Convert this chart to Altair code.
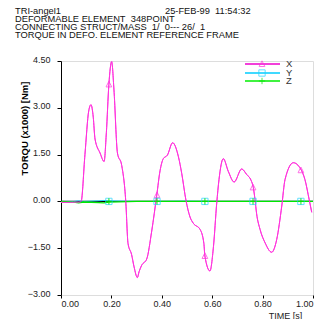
import altair as alt
import pandas as pd

# ---- data ----
t_x = [0.0, 0.04, 0.075, 0.08, 0.095, 0.11, 0.119, 0.128, 0.135, 0.155, 0.171, 0.18, 0.19, 0.201, 0.21,
       0.224, 0.241, 0.257, 0.266, 0.28, 0.29, 0.303, 0.31, 0.32, 0.34, 0.36, 0.38, 0.393, 0.406, 0.422,
       0.443, 0.466, 0.479, 0.496, 0.512, 0.525, 0.552, 0.567, 0.571, 0.591, 0.605, 0.618, 0.627, 0.644,
       0.664, 0.687, 0.717, 0.737, 0.754, 0.763, 0.77, 0.776, 0.79, 0.81, 0.836, 0.856, 0.876, 0.889,
       0.922, 0.951, 0.968, 0.985, 0.995]
v_x = [-0.03, -0.03, -0.02, 0.0, 1.5, 2.9, 3.1, 2.7, 2.0, 1.55, 1.28, 2.2, 3.75, 4.48, 3.6,
       1.55, 1.15, 0.0, -1.35, -1.7, -2.1, -2.44, -2.25, -2.05, -1.85, -0.95, 0.2, 0.98, 1.37, 1.48,
       1.88, 1.43, 0.9, 0.03, -0.5, -0.7, -0.9, -1.35, -1.75, -2.23, -1.45, -0.05, 0.7, 1.37,
       0.96, 0.62, 1.04, 0.86, 0.68, 0.45, 0.05, -0.38, -0.9, -1.33, -1.63, -1.22, -0.15, 0.7,
       1.24, 1.04, 0.7, 0.05, -0.35]

t_yz = [0.0, 0.05, 0.07, 0.09, 0.15, 0.17, 0.19, 0.3, 0.381, 0.5, 0.571, 0.7, 0.762, 0.9, 0.952, 1.0]
v_y = [0.0, 0.0, 0.02, 0.0, 0.02, 0.03, 0.02, 0.0, 0.0, 0.01, 0.0, 0.0, 0.0, 0.0, 0.0, 0.0]
v_z = [0.0, -0.02, -0.05, -0.02, -0.04, -0.05, -0.02, 0.0, 0.0, 0.0, 0.0, 0.0, 0.0, 0.0, 0.0, 0.0]

mark_t = [0.19, 0.381, 0.571, 0.762, 0.952]
mark_x = [3.75, 0.2, -1.75, 0.45, 1.0]
mark_yz = [0.0, 0.0, 0.0, 0.0, 0.0]

y_ticks = [-3.0, -2.25, -1.5, -0.75, 0.0, 0.75, 1.5, 2.25, 3.0, 3.75, 4.5]
x_ticks = [0.0, 0.2, 0.4, 0.6, 0.8, 1.0]

series = ["X", "Y", "Z"]
colors = ["#ff33dd", "#22d4ff", "#00e600"]
legend_colors = ["#ee00cc", "#00ccff", "#00ee00"]

NB = "\u00a0"
header_lines = ["TRI-angel1", "DEFORMABLE ELEMENT" + NB + NB + "348POINT",
                "CONNECTING STRUCT/MASS" + NB + NB + "1/" + NB + NB + "0--- 26/" + NB + NB + "1",
                "TORQUE IN DEFO. ELEMENT REFERENCE FRAME"]
header_date = "25-FEB-99" + NB + NB + "11:54:32"

FONT = "Liberation Sans"

dfx = pd.DataFrame({"t": t_x, "v": v_x})
dfy = pd.DataFrame({"t": t_yz, "v": v_y})
dfz = pd.DataFrame({"t": t_yz, "v": v_z})
dfm = pd.DataFrame({"t": mark_t, "x": mark_x, "yz": mark_yz})
dfzero = pd.DataFrame({"t0": [0.0], "t1": [1.0], "v": [0.0]})
dummy = pd.DataFrame({"a": [0]})

xs = alt.Scale(domain=[0, 1.0], nice=False)
ys = alt.Scale(domain=[-3.0, 4.5], nice=False)

X = alt.X("t:Q", scale=xs, axis=alt.Axis(values=x_ticks, format=".2f", title="TIME [s]", grid=False,
                                         domain=False, tickSize=3, tickColor="#000", labelPadding=1,
                                         labelFontSize=9, labelFont=FONT, labelColor="#222",
                                         labelOverlap=False,
                                         titleFont=FONT, titleFontSize=9, titleFontWeight="normal",
                                         titleColor="#222", titleX=224, titleY=20, titleAnchor="middle",
                                         titleAlign="center", titleBaseline="middle"))
Yax = alt.Axis(values=y_ticks, format=".2f", title="TORQU (x1000) [Nm]", grid=False, domainColor="#000",
               tickColor="#000", tickSize=4, labelPadding=7, labelOffset=-2, labelFontSize=9,
               labelOverlap=False,
               labelFont=FONT, labelColor="#222", titleFont=FONT, titleFontSize=9.5,
               titleFontWeight="bold", titleColor="#000", titleX=-37, titleY=67,
               titleAngle=270, titleAlign="center", titleBaseline="middle")

base_axes = alt.Chart(dfx).mark_line(color=colors[0], strokeWidth=1, interpolate="monotone").encode(
    x=X, y=alt.Y("v:Q", scale=ys, axis=Yax))

zero = alt.Chart(dfzero).mark_rule(color="#000", strokeWidth=1.2).encode(
    x=alt.X("t0:Q", scale=xs), x2="t1:Q", y=alt.Y("v:Q", scale=ys))

line_y = alt.Chart(dfy).mark_line(color=colors[1], strokeWidth=1).encode(
    x=alt.X("t:Q", scale=xs), y=alt.Y("v:Q", scale=ys))
line_z = alt.Chart(dfz).mark_line(color=colors[2], strokeWidth=1.3).encode(
    x=alt.X("t:Q", scale=xs), y=alt.Y("v:Q", scale=ys))

tri = "M0,-1L0.9,0.8L-0.9,0.8Z"
plus = "M0,-1L0,1M-1,0L1,0"

pts_x = alt.Chart(dfm).mark_point(shape=tri, size=40, filled=False, color=colors[0], strokeWidth=1).encode(
    x=alt.X("t:Q", scale=xs), y=alt.Y("x:Q", scale=ys))
pts_y = alt.Chart(dfm).mark_point(shape="square", size=40, filled=False, color=colors[1], strokeWidth=1).encode(
    x=alt.X("t:Q", scale=xs), y=alt.Y("yz:Q", scale=ys))
pts_z = alt.Chart(dfm).mark_point(shape=plus, size=40, filled=False, color=colors[2], strokeWidth=1.3).encode(
    x=alt.X("t:Q", scale=xs), y=alt.Y("yz:Q", scale=ys))

layers = [base_axes, zero, line_y, line_z, base_axes, pts_x, pts_y, pts_z]

# legend
leg_y = [3, 12, 20]
leg_shapes = [tri, "square", plus]
for i, name in enumerate(series):
    layers.append(alt.Chart(dummy).mark_rule(color=legend_colors[i], strokeWidth=1.5).encode(
        x=alt.value(184), x2=alt.value(219), y=alt.value(leg_y[i])))
    layers.append(alt.Chart(dummy).mark_point(shape=leg_shapes[i], size=40, filled=False,
                                              color=colors[i], strokeWidth=1).encode(
        x=alt.value(201), y=alt.value(leg_y[i])))
    layers.append(alt.Chart(dummy).mark_text(text=name, font=FONT, fontSize=9.5, color="#333",
                                             align="left", baseline="middle").encode(
        x=alt.value(225), y=alt.value(leg_y[i])))

# header
head_y = [-50, -42, -34, -26]
for i, line in enumerate(header_lines):
    layers.append(alt.Chart(dummy).mark_text(text=line, font=FONT, fontSize=9.3, color="#111",
                                             align="left", baseline="middle").encode(
        x=alt.value(-46), y=alt.value(head_y[i])))
layers.append(alt.Chart(dummy).mark_text(text=header_date, font=FONT, fontSize=9.3, color="#111",
                                         align="left", baseline="middle").encode(
    x=alt.value(104), y=alt.value(head_y[0])))

chart = alt.layer(*layers).properties(
    width=252, height=234,
    autosize=alt.AutoSizeParams(type="none"),
    padding={"left": 53, "top": 53, "right": 2, "bottom": 24},
).configure_view(stroke=None).configure(background="white")

chart.save("out.html", embed_options={"renderer": "svg", "actions": False})
